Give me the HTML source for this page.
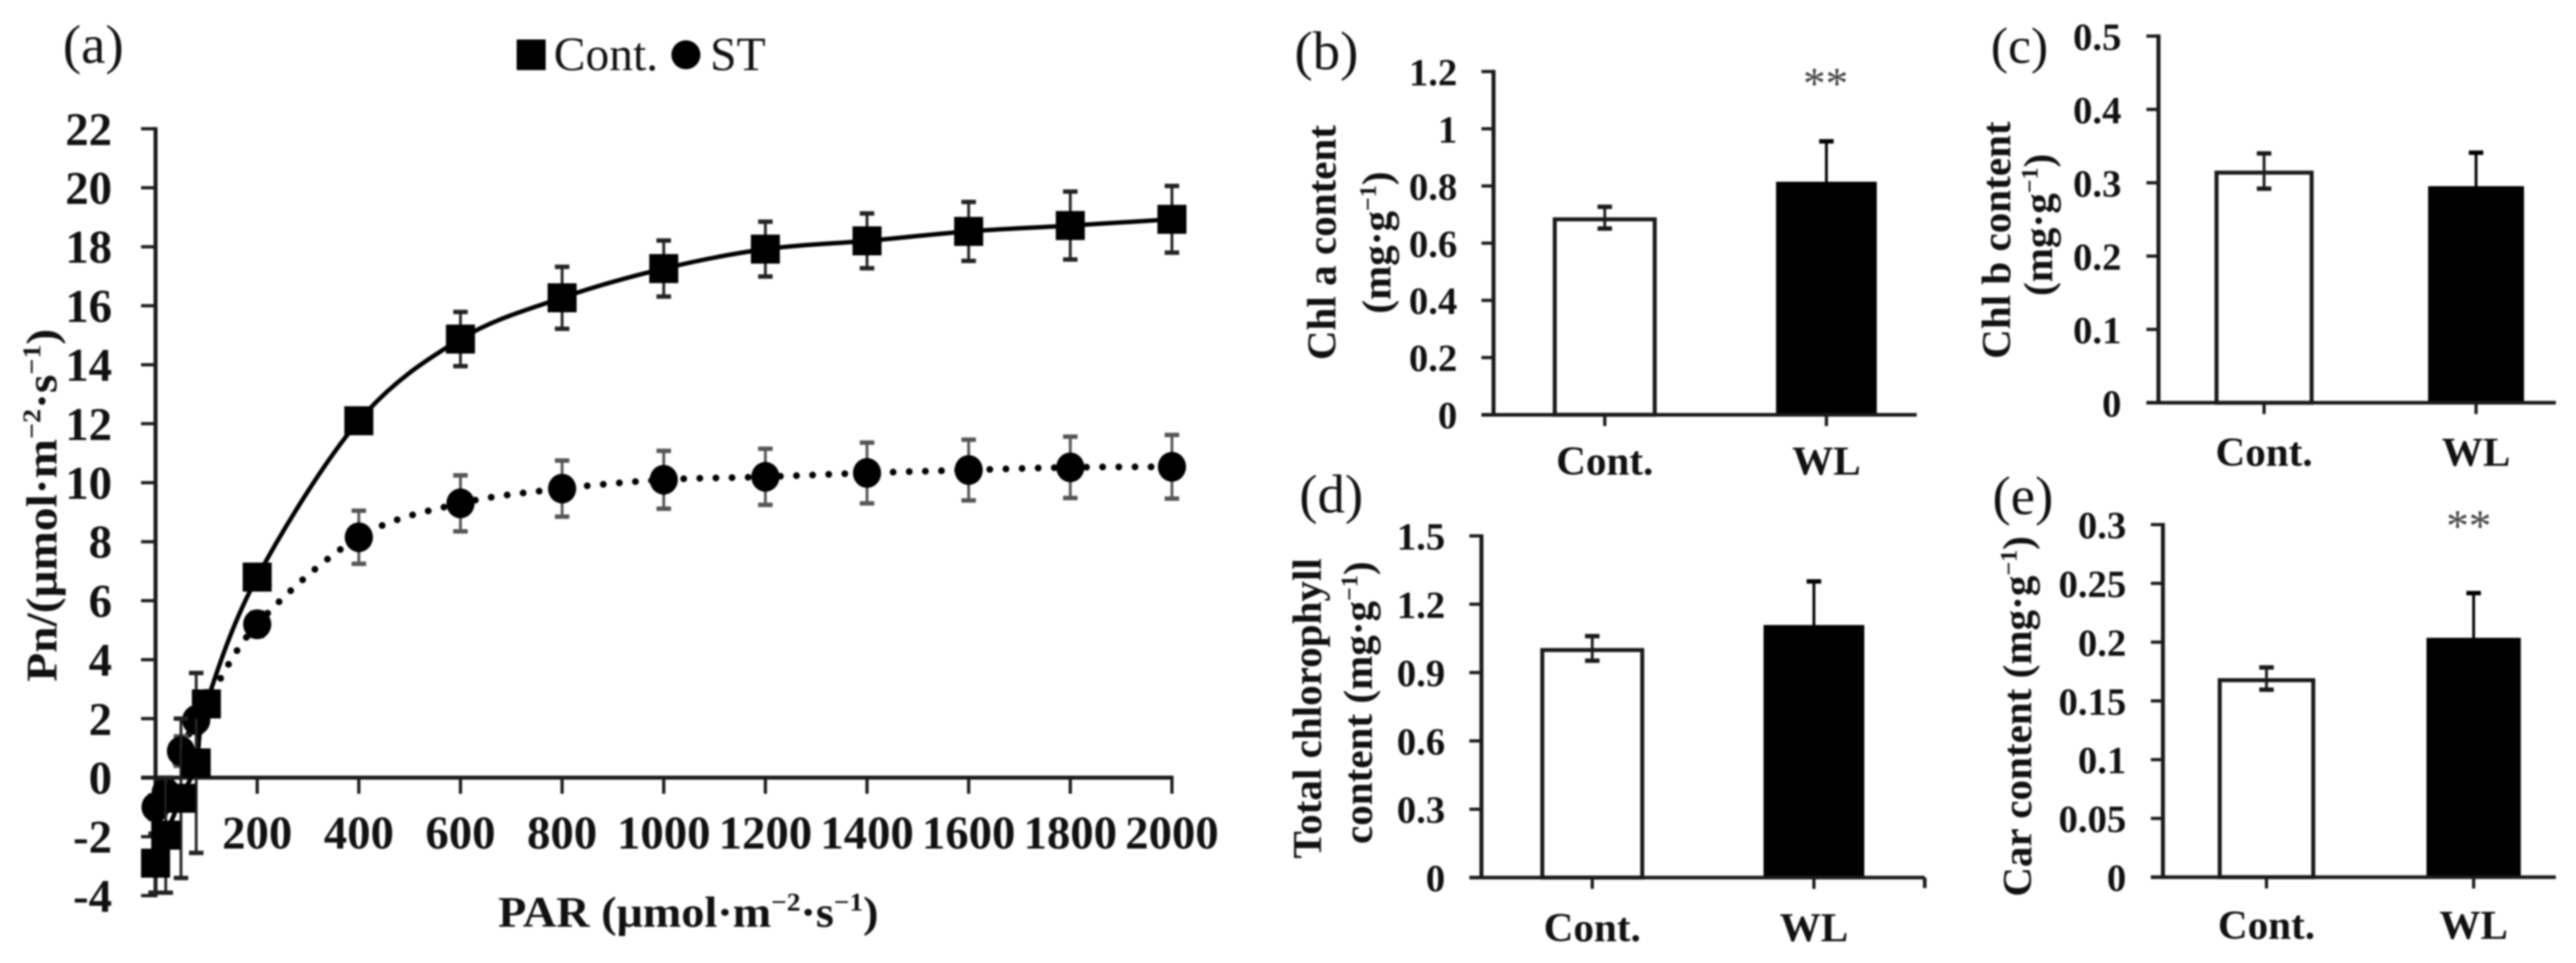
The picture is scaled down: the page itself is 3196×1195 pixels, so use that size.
<!DOCTYPE html>
<html lang="en">
<head>
<meta charset="utf-8">
<title>Photosynthesis and pigment content charts</title>
<style>
html,body{margin:0;padding:0;background:#fff;width:3196px;height:1195px;overflow:hidden}
svg{display:block;filter:blur(1px)}
text{font-family:"Liberation Serif","DejaVu Serif",serif;fill:#111}
.b{font-weight:bold}
</style>
</head>
<body>
<svg id="fig" xmlns="http://www.w3.org/2000/svg" width="3196" height="1195" viewBox="0 0 3196 1195">
  <rect width="3196" height="1195" fill="#fff"/>

  <g id="panel-a">
    <text x="78" y="78" font-size="68">(a)</text>
    <rect x="641" y="49" width="36" height="38" fill="#000"/>
    <text x="687" y="87" font-size="59">Cont.</text>
    <circle cx="851" cy="68" r="18" fill="#000"/>
    <text x="881" y="87" font-size="59">ST</text>
    <text class="b" transform="translate(70,627) rotate(-90)" text-anchor="middle" font-size="54" textLength="438" lengthAdjust="spacingAndGlyphs">Pn/(μmol·m<tspan font-size="32" dy="-20">−2</tspan><tspan dy="20">·s</tspan><tspan font-size="32" dy="-20">−1</tspan><tspan dy="20">)</tspan></text>
    <text class="b" x="854" y="1150" text-anchor="middle" font-size="54" textLength="472" lengthAdjust="spacingAndGlyphs">PAR (μmol·m<tspan font-size="32" dy="-20">−2</tspan><tspan dy="20">·s</tspan><tspan font-size="32" dy="-20">−1</tspan><tspan dy="20">)</tspan></text>
  </g>

  <g id="panel-b">
    <text x="1606" y="86" font-size="68">(b)</text>
    <text class="b" transform="translate(1657,301) rotate(-90)" text-anchor="middle" font-size="51">Chl a content</text>
    <text class="b" transform="translate(1725,301) rotate(-90)" text-anchor="middle" font-size="51">(mg·g<tspan font-size="30" dy="-18">−1</tspan><tspan dy="18">)</tspan></text>
    <text x="2265" y="122" text-anchor="middle" font-size="56" style="fill:#444">**</text>
  </g>

  <g id="panel-c">
    <text x="2470" y="78" font-size="64">(c)</text>
    <text class="b" transform="translate(2494,298) rotate(-90)" text-anchor="middle" font-size="51">Chl b content</text>
    <text class="b" transform="translate(2546,279) rotate(-90)" text-anchor="middle" font-size="51">(mg·g<tspan font-size="30" dy="-18">−1</tspan><tspan dy="18">)</tspan></text>
  </g>

  <g id="panel-d">
    <text x="1612" y="636" font-size="68">(d)</text>
    <text class="b" transform="translate(1639,879) rotate(-90)" text-anchor="middle" font-size="51">Total chlorophyll</text>
    <text class="b" transform="translate(1702,872) rotate(-90)" text-anchor="middle" font-size="51">content (mg·g<tspan font-size="30" dy="-18">−1</tspan><tspan dy="18">)</tspan></text>
  </g>

  <g id="panel-e">
    <text x="2472" y="638" font-size="68">(e)</text>
    <text class="b" transform="translate(2520,889) rotate(-90)" text-anchor="middle" font-size="51">Car content (mg·g<tspan font-size="30" dy="-18">−1</tspan><tspan dy="18">)</tspan></text>
    <text x="3063" y="671" text-anchor="middle" font-size="56" style="fill:#444">**</text>
  </g>
</svg>

<script>
// ---------- Panel (a) data ----------
const parValues = [0, 20, 50, 80, 100, 200, 400, 600, 800, 1000, 1200, 1400, 1600, 1800, 2000];
const contValues = [-2.9, -1.95, -0.7, 0.5, 2.5, 6.8, 12.1, 14.87, 16.27, 17.26, 17.92, 18.2, 18.52, 18.72, 18.93];
const contErrors = [1.0, 1.95, 2.7, 3.05, 0.3, 0.3, 0.3, 0.92, 1.05, 0.95, 0.93, 0.93, 1.0, 1.15, 1.13];
const stValues = [-1.0, -0.5, 0.9, 1.95, 2.5, 5.2, 8.15, 9.3, 9.8, 10.1, 10.2, 10.33, 10.43, 10.52, 10.54];
const stErrors = [0.4, 0.4, 0.5, 0.4, 0.3, 0.4, 0.9, 0.95, 0.95, 0.98, 0.95, 1.03, 1.03, 1.04, 1.08];
const pnTicks = ['-4', '-2', '0', '2', '4', '6', '8', '10', '12', '14', '16', '18', '20', '22'];
const parTicks = ['200', '400', '600', '800', '1000', '1200', '1400', '1600', '1800', '2000'];

// ---------- Panels (b)-(e) data ----------
const barCategories = ['Cont.', 'WL'];
const chlAValues = [0.689, 0.819];
const chlAErrors = [0.038, 0.137];
const chlATicks = ['0', '0.2', '0.4', '0.6', '0.8', '1', '1.2'];
const chlBValues = [0.316, 0.297];
const chlBErrors = [0.024, 0.044];
const chlBTicks = ['0', '0.1', '0.2', '0.3', '0.4', '0.5'];
const totalValues = [1.006, 1.114];
const totalErrors = [0.054, 0.186];
const totalTicks = ['0', '0.3', '0.6', '0.9', '1.2', '1.5'];
const carValues = [0.169, 0.2047];
const carErrors = [0.0095, 0.037];
const carTicks = ['0', '0.05', '0.1', '0.15', '0.2', '0.25', '0.3'];

const NS = 'http://www.w3.org/2000/svg';
const INK = '#1a1a1a';

function make(parent, tag, attrs, text) {
  const node = document.createElementNS(NS, tag);
  for (const k in attrs) node.setAttribute(k, attrs[k]);
  if (text !== undefined) node.textContent = text;
  parent.appendChild(node);
  return node;
}

function smoothPath(points) {
  let d = 'M' + points[0][0] + ' ' + points[0][1];
  for (let i = 0; i < points.length - 1; i++) {
    const p0 = points[Math.max(i - 1, 0)];
    const p1 = points[i];
    const p2 = points[i + 1];
    const p3 = points[Math.min(i + 2, points.length - 1)];
    const c1x = p1[0] + (p2[0] - p0[0]) / 6;
    const c1y = p1[1] + (p2[1] - p0[1]) / 6;
    const c2x = p2[0] - (p3[0] - p1[0]) / 6;
    const c2y = p2[1] - (p3[1] - p1[1]) / 6;
    d += 'C' + c1x + ' ' + c1y + ' ' + c2x + ' ' + c2y + ' ' + p2[0] + ' ' + p2[1];
  }
  return d;
}

function errorBar(parent, cx, yHigh, yLow, capW, color, sw) {
  const g = make(parent, 'g', {});
  
  
  make(g, 'line', {x1: cx, x2: cx, y1: yHigh, y2: yLow, stroke: color, 'stroke-width': sw});
  make(g, 'line', {x1: cx - capW / 2, x2: cx + capW / 2, y1: yHigh, y2: yHigh, stroke: color, 'stroke-width': sw + 2});
  make(g, 'line', {x1: cx - capW / 2, x2: cx + capW / 2, y1: yLow, y2: yLow, stroke: color, 'stroke-width': sw + 2});
}

// ---------- Panel (a) ----------
(function drawLinePanel() {
  const root = document.getElementById('panel-a');
  const xOf = function (v) { return 193 + v * 0.6305; };
  const yOf = function (v) { return 965 - v * 36.6; };

  const axes = make(root, 'g', {});
  
  
  make(axes, 'line', {x1: xOf(0), x2: xOf(0), y1: yOf(22) - 2, y2: yOf(-4) + 2, stroke: INK, 'stroke-width': 5});
  make(axes, 'line', {x1: 175, x2: xOf(2000) + 2, y1: yOf(0), y2: yOf(0), stroke: INK, 'stroke-width': 5});

  pnTicks.forEach(function (t) {
    const v = parseFloat(t);
    make(axes, 'line', {x1: 175, x2: xOf(0), y1: yOf(v), y2: yOf(v), stroke: INK, 'stroke-width': 4});
    const label = make(axes, 'text', {x: 139, y: yOf(v) + 20, 'text-anchor': 'end', 'font-size': 58, 'font-weight': 'bold'}, t);
    
    
  });
  parTicks.forEach(function (t) {
    const v = parseFloat(t);
    make(axes, 'line', {x1: xOf(v), x2: xOf(v), y1: yOf(0), y2: yOf(0) + 20, stroke: INK, 'stroke-width': 4});
    const label = make(axes, 'text', {x: xOf(v), y: 1053, 'text-anchor': 'middle', 'font-size': 58, 'font-weight': 'bold'}, t);
    
    
  });

  const stSeries = make(root, 'g', {});
  
  
  const contSeries = make(root, 'g', {});
  
  

  const stPts = parValues.map(function (p, i) { return [xOf(p), yOf(stValues[i])]; });
  const contPts = parValues.map(function (p, i) { return [xOf(p), yOf(contValues[i])]; });

  const stLine = make(stSeries, 'path', {d: smoothPath(stPts), fill: 'none', stroke: '#000', 'stroke-width': 8.5, 'stroke-linecap': 'round', 'stroke-dasharray': '0 20'});
  
  
  const contLine = make(contSeries, 'path', {d: smoothPath(contPts), fill: 'none', stroke: '#000', 'stroke-width': 5.5});
  
  

  parValues.forEach(function (p, i) {
    errorBar(stSeries, xOf(p), yOf(stValues[i] + stErrors[i]), yOf(stValues[i] - stErrors[i]), 18, '#555', 3.5);
  });
  parValues.forEach(function (p, i) {
    const dot = make(stSeries, 'ellipse', {cx: xOf(p), cy: yOf(stValues[i]), rx: 17.5, ry: 18.5, fill: '#000'});
    
    
  });
  parValues.forEach(function (p, i) {
    errorBar(contSeries, xOf(p), yOf(contValues[i] + contErrors[i]), yOf(contValues[i] - contErrors[i]), 18, '#222', 3.5);
  });
  parValues.forEach(function (p, i) {
    const sq = make(contSeries, 'rect', {x: xOf(p) - 18, y: yOf(contValues[i]) - 18, width: 36, height: 36, fill: '#000'});
    
    
  });
})();

// ---------- Panels (b)-(e) ----------
function drawBarPanel(id, layout, values, errors, ticks) {
  const root = document.getElementById(id);
  const yMax = parseFloat(ticks[ticks.length - 1]);
  const yOf = function (v) { return layout.y0 - (v / yMax) * (layout.y0 - layout.yTop); };
  const xOf = function (i) { return layout.c0 + i * layout.step; };

  const axes = make(root, 'g', {});
  
  
  make(axes, 'line', {x1: layout.axisX, x2: layout.axisX, y1: layout.yTop - 2, y2: layout.y0, stroke: INK, 'stroke-width': 5});

  ticks.forEach(function (t) {
    const v = parseFloat(t);
    make(axes, 'line', {x1: layout.axisX - 15, x2: layout.axisX, y1: yOf(v), y2: yOf(v), stroke: INK, 'stroke-width': 4});
    const label = make(axes, 'text', {x: layout.labelX, y: yOf(v) + 17, 'text-anchor': 'end', 'font-size': 48, 'font-weight': 'bold'}, t);
    
    
  });

  barCategories.forEach(function (c, i) {
    const top = yOf(values[i]);
    const group = make(root, 'g', {});
    
    
    const w = layout.barW;
    const filled = i === 1;
    const bar = make(group, 'rect', {
      x: xOf(i) - w / 2, y: top + 2, width: w, height: layout.y0 - top - 2,
      fill: filled ? '#000' : '#fff', stroke: filled ? '#000' : INK, 'stroke-width': filled ? 1 : 5
    });
    
    
    errorBar(group, xOf(i), yOf(values[i] + errors[i]), yOf(values[i] - errors[i]), 18, filled ? '#000' : INK, 3.5);
    make(axes, 'line', {x1: xOf(i), x2: xOf(i), y1: layout.y0, y2: layout.y0 + 14, stroke: INK, 'stroke-width': 4});
    const cat = make(root, 'text', {x: xOf(i), y: layout.catY, 'text-anchor': 'middle', 'font-size': 51, 'font-weight': 'bold'}, c);
    
    
  });

  const baseline = make(root, 'line', {x1: layout.axisX - 15, x2: layout.axisEnd, y1: layout.y0, y2: layout.y0, stroke: INK, 'stroke-width': 4.5});
  
  
  if (layout.endTick) {
    const hook = make(root, 'line', {x1: layout.axisEnd, x2: layout.axisEnd, y1: layout.y0, y2: layout.y0 + layout.endTick, stroke: INK, 'stroke-width': 4.5});
    
    
  }
}

drawBarPanel('panel-b', {axisX: 1853, y0: 514.7, yTop: 88.8, labelX: 1808, c0: 1991, step: 275, barW: 124, catY: 589, axisEnd: 2378, endTick: 0}, chlAValues, chlAErrors, chlATicks);
drawBarPanel('panel-c', {axisX: 2678, y0: 499.8, yTop: 44.8, labelX: 2632, c0: 2809, step: 263, barW: 118, catY: 578, axisEnd: 3171, endTick: 0}, chlBValues, chlBErrors, chlBTicks);
drawBarPanel('panel-d', {axisX: 1838, y0: 1089, yTop: 665, labelX: 1793, c0: 1975.5, step: 275, barW: 124, catY: 1168, axisEnd: 2388, endTick: 13}, totalValues, totalErrors, totalTicks);
drawBarPanel('panel-e', {axisX: 2683.5, y0: 1088.5, yTop: 651, labelX: 2638, c0: 2812, step: 257, barW: 116, catY: 1165, axisEnd: 3171, endTick: 0}, carValues, carErrors, carTicks);
</script>
</body>
</html>
